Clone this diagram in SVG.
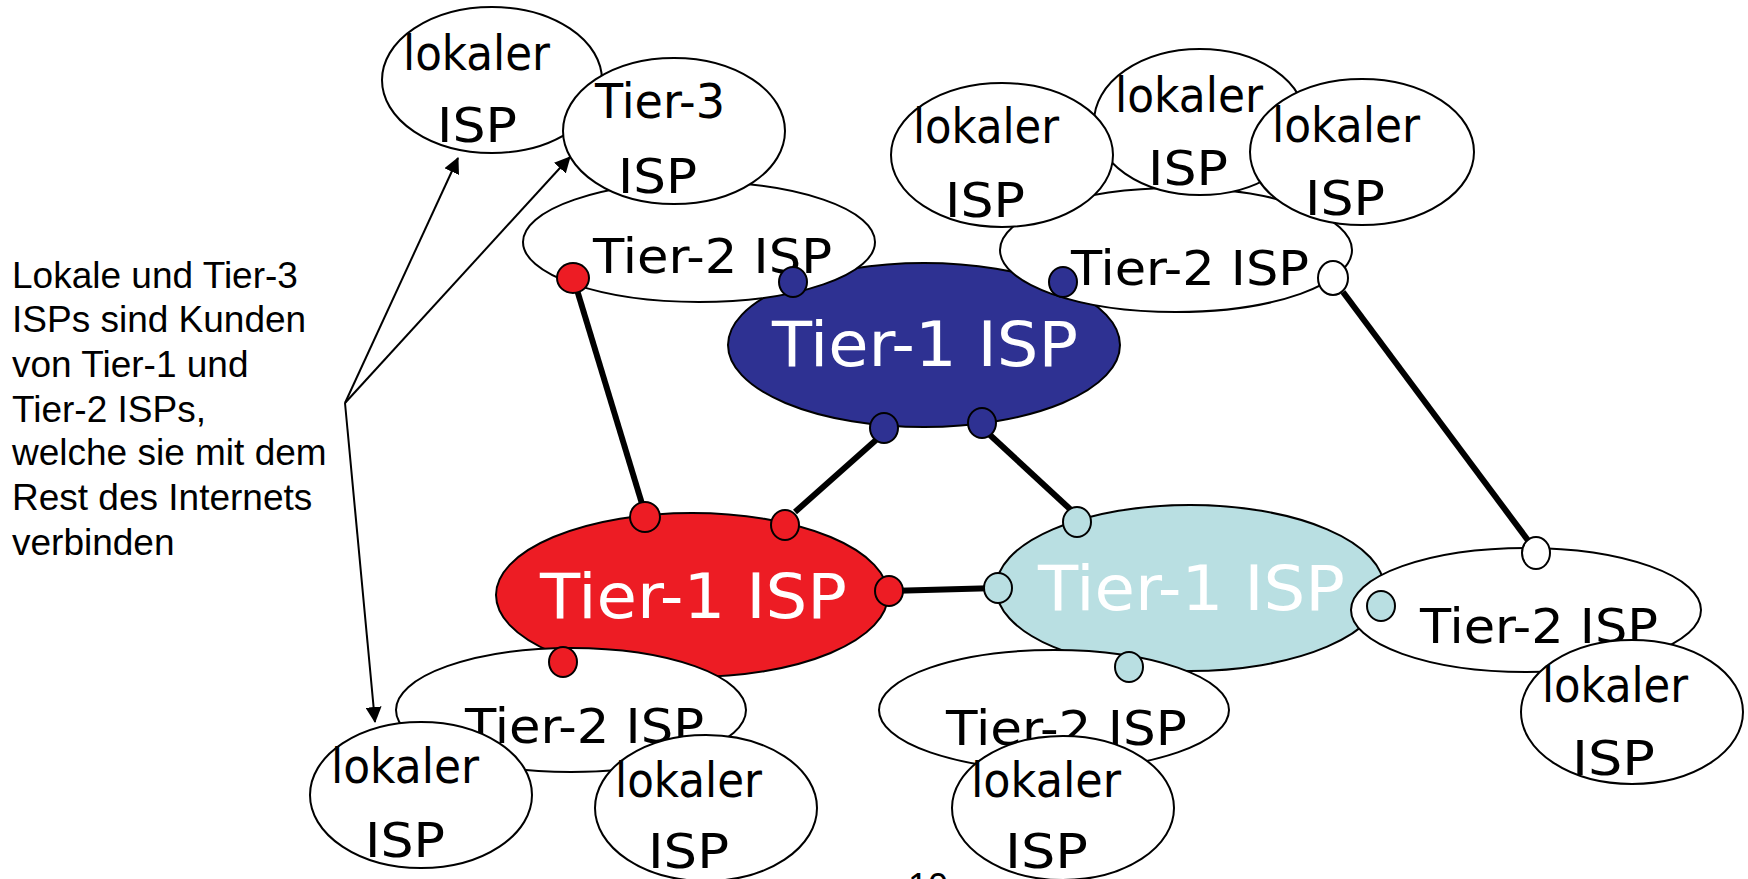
<svg xmlns="http://www.w3.org/2000/svg" width="1748" height="879" viewBox="0 0 1748 879">
  <defs>
    <marker id="arrow" markerWidth="16" markerHeight="16" refX="15" refY="8" orient="auto" markerUnits="userSpaceOnUse">
      <path d="M0,0 L16,8 L0,16 Z" fill="#000"/>
    </marker>
    <style>
      .node { fill: #fff; stroke: #000; stroke-width: 2; }
      .t1-blue { fill: #2E3192; stroke: #000; stroke-width: 2; }
      .t1-red { fill: #ED1C24; stroke: #000; stroke-width: 2; }
      .t1-cyan { fill: #B9DFE2; stroke: #000; stroke-width: 2; }
      .lbl { font-family: "DejaVu Sans", "Noto Sans", sans-serif; font-size: 48px; fill: #000; }
      .big { font-family: "DejaVu Sans", "Noto Sans", sans-serif; font-size: 63px; fill: #fff; }
      .note { font-family: "Liberation Sans", Arial, sans-serif; font-size: 37px; fill: #000; }
      .link { stroke: #000; stroke-width: 6; fill: none; }
      .ptr { stroke: #000; stroke-width: 2; fill: none; marker-end: url(#arrow); }
      .dot { stroke: #000; stroke-width: 2; }
      .d-blue { fill: #2E3192; }
      .d-red { fill: #ED1C24; }
      .d-cyan { fill: #B9DFE2; }
      .d-white { fill: #fff; }
    </style>
  </defs>

  <!-- Tier-1 backbones -->
  <g id="tier1-blue">
    <ellipse class="t1-blue" cx="924" cy="345" rx="196" ry="82"/>
    <text class="big" x="772" y="366" textLength="306" lengthAdjust="spacingAndGlyphs">Tier-1 ISP</text>
  </g>
  <g id="tier1-red">
    <ellipse class="t1-red" cx="692" cy="595" rx="196" ry="82"/>
    <text class="big" x="540" y="618" textLength="307" lengthAdjust="spacingAndGlyphs">Tier-1 ISP</text>
  </g>
  <g id="tier1-cyan">
    <ellipse class="t1-cyan" cx="1190" cy="588" rx="194" ry="83"/>
    <text class="big" x="1038" y="610" textLength="307" lengthAdjust="spacingAndGlyphs">Tier-1 ISP</text>
  </g>

  <!-- Tier-2 providers -->
  <g id="tier2-topleft">
    <ellipse class="node" cx="699" cy="242" rx="176" ry="60"/>
    <text class="lbl" x="593" y="273" textLength="239" lengthAdjust="spacingAndGlyphs">Tier-2 ISP</text>
  </g>
  <g id="tier2-topright">
    <ellipse class="node" cx="1176" cy="250" rx="176" ry="62"/>
    <text class="lbl" x="1071" y="285" textLength="238" lengthAdjust="spacingAndGlyphs">Tier-2 ISP</text>
  </g>
  <g id="tier2-right">
    <ellipse class="node" cx="1526" cy="610" rx="175" ry="62"/>
    <text class="lbl" x="1420" y="643" textLength="238" lengthAdjust="spacingAndGlyphs">Tier-2 ISP</text>
  </g>
  <g id="tier2-bottommid">
    <ellipse class="node" cx="1054" cy="710" rx="175" ry="60"/>
    <text class="lbl" x="946" y="745" textLength="241" lengthAdjust="spacingAndGlyphs">Tier-2 ISP</text>
  </g>
  <g id="tier2-bottomleft">
    <ellipse class="node" cx="571" cy="710" rx="175" ry="62"/>
    <text class="lbl" x="465" y="743" textLength="239" lengthAdjust="spacingAndGlyphs">Tier-2 ISP</text>
  </g>

  <!-- Local and Tier-3 providers -->
  <g id="local-topleft">
    <ellipse class="node" cx="492" cy="80" rx="110" ry="73"/>
    <text class="lbl" x="403" y="70" textLength="147" lengthAdjust="spacingAndGlyphs">lokaler</text>
    <text class="lbl" x="437" y="142" textLength="80" lengthAdjust="spacingAndGlyphs">ISP</text>
  </g>
  <g id="tier3">
    <ellipse class="node" cx="674" cy="131" rx="111" ry="73"/>
    <text class="lbl" x="595" y="118" textLength="130" lengthAdjust="spacingAndGlyphs">Tier-3</text>
    <text class="lbl" x="618" y="193" textLength="79" lengthAdjust="spacingAndGlyphs">ISP</text>
  </g>
  <g id="local-top-mid">
    <ellipse class="node" cx="1200" cy="122" rx="106" ry="73"/>
    <text class="lbl" x="1115" y="112" textLength="148" lengthAdjust="spacingAndGlyphs">lokaler</text>
    <text class="lbl" x="1148" y="185" textLength="80" lengthAdjust="spacingAndGlyphs">ISP</text>
  </g>
  <g id="local-top-left2">
    <ellipse class="node" cx="1002" cy="155" rx="111" ry="72"/>
    <text class="lbl" x="913" y="143" textLength="146" lengthAdjust="spacingAndGlyphs">lokaler</text>
    <text class="lbl" x="945" y="217" textLength="80" lengthAdjust="spacingAndGlyphs">ISP</text>
  </g>
  <g id="local-top-right">
    <ellipse class="node" cx="1362" cy="152" rx="112" ry="73"/>
    <text class="lbl" x="1272" y="142" textLength="148" lengthAdjust="spacingAndGlyphs">lokaler</text>
    <text class="lbl" x="1305" y="215" textLength="80" lengthAdjust="spacingAndGlyphs">ISP</text>
  </g>
  <g id="local-right">
    <ellipse class="node" cx="1632" cy="712" rx="111" ry="72"/>
    <text class="lbl" x="1542" y="702" textLength="146" lengthAdjust="spacingAndGlyphs">lokaler</text>
    <text class="lbl" x="1572" y="775" textLength="83" lengthAdjust="spacingAndGlyphs">ISP</text>
  </g>
  <g id="local-bottommid">
    <ellipse class="node" cx="1063" cy="808" rx="111" ry="72"/>
    <text class="lbl" x="971" y="797" textLength="150" lengthAdjust="spacingAndGlyphs">lokaler</text>
    <text class="lbl" x="1005" y="868" textLength="83" lengthAdjust="spacingAndGlyphs">ISP</text>
  </g>
  <g id="local-bottomleft">
    <ellipse class="node" cx="421" cy="795" rx="111" ry="73"/>
    <text class="lbl" x="331" y="783" textLength="148" lengthAdjust="spacingAndGlyphs">lokaler</text>
    <text class="lbl" x="365" y="857" textLength="80" lengthAdjust="spacingAndGlyphs">ISP</text>
  </g>
  <g id="local-bottomleft2">
    <ellipse class="node" cx="706" cy="808" rx="111" ry="73"/>
    <text class="lbl" x="615" y="797" textLength="147" lengthAdjust="spacingAndGlyphs">lokaler</text>
    <text class="lbl" x="648" y="868" textLength="81" lengthAdjust="spacingAndGlyphs">ISP</text>
  </g>

  <!-- Explanatory note -->
  <g id="note">
    <text class="note" x="12" y="288">Lokale und Tier-3</text>
    <text class="note" x="12" y="332">ISPs sind Kunden</text>
    <text class="note" x="12" y="377">von Tier-1 und</text>
    <text class="note" x="12" y="422">Tier-2 ISPs,</text>
    <text class="note" x="12" y="465">welche sie mit dem</text>
    <text class="note" x="12" y="510">Rest des Internets</text>
    <text class="note" x="12" y="555">verbinden</text>
  </g>

  <!-- Links between providers and pointer arrows -->
  <g id="connectors">
    <line class="link" x1="577" y1="290" x2="643" y2="507"/>
    <line class="link" x1="876" y1="440" x2="795" y2="512"/>
    <line class="link" x1="990" y1="435" x2="1071" y2="510"/>
    <line class="link" x1="889" y1="591" x2="998" y2="588"/>
    <line class="link" x1="1343" y1="292" x2="1530" y2="543"/>
    <line class="ptr" x1="345" y1="403" x2="458" y2="158"/>
    <line class="ptr" x1="345" y1="403" x2="570" y2="157"/>
    <line class="ptr" x1="345" y1="403" x2="375" y2="722"/>
  </g>

  <!-- Peering points -->
  <g id="ports">
    <ellipse class="dot d-blue" cx="793" cy="282" rx="14" ry="15"/>
    <ellipse class="dot d-blue" cx="1063" cy="282" rx="14" ry="15"/>
    <ellipse class="dot d-blue" cx="884" cy="428" rx="14" ry="15"/>
    <ellipse class="dot d-blue" cx="982" cy="423" rx="14" ry="15"/>
    <ellipse class="dot d-red" cx="573" cy="278" rx="16" ry="15"/>
    <ellipse class="dot d-red" cx="645" cy="517" rx="15" ry="15"/>
    <ellipse class="dot d-red" cx="785" cy="525" rx="14" ry="15"/>
    <ellipse class="dot d-red" cx="889" cy="591" rx="14" ry="15"/>
    <ellipse class="dot d-red" cx="563" cy="662" rx="14" ry="15"/>
    <ellipse class="dot d-cyan" cx="1077" cy="522" rx="14" ry="15"/>
    <ellipse class="dot d-cyan" cx="998" cy="588" rx="14" ry="15"/>
    <ellipse class="dot d-cyan" cx="1129" cy="667" rx="14" ry="15"/>
    <ellipse class="dot d-cyan" cx="1381" cy="606" rx="14" ry="15"/>
    <ellipse class="dot d-white" cx="1333" cy="278" rx="15" ry="17"/>
    <ellipse class="dot d-white" cx="1536" cy="553" rx="14" ry="16"/>
  </g>

  <!-- Page number -->
  <text x="908" y="899" font-family="Liberation Sans, Arial, sans-serif" font-size="36" fill="#000">10</text>
</svg>
